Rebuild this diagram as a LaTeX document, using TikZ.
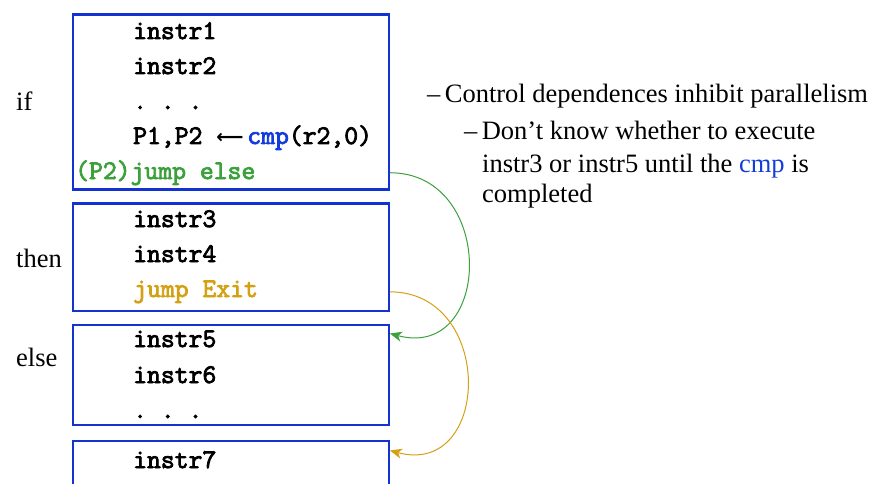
\documentclass[tikz,border=0pt]{standalone}
\usepackage{fontspec}
\setmainfont{Liberation Serif}
\setmonofont{Latin Modern Mono}[BoldFont=Latin Modern Mono, BoldFeatures={FakeBold=3}]
\newfontfamily\arrowfont{DejaVu Sans}
\usetikzlibrary{arrows.meta,calc}
\definecolor{boxblue}{RGB}{20,50,210}
\definecolor{cmpblue}{RGB}{20,60,220}
\definecolor{jgreen}{RGB}{60,160,60}
\definecolor{jgold}{RGB}{212,160,20}
\tikzset{
  codebox/.style={draw=boxblue, line width=2.4pt, anchor=north west, inner sep=0pt},
  code/.style={anchor=base west, inner sep=0pt, font=\fontsize{26.9}{26.9}\selectfont\ttfamily\bfseries},
  lbl/.style={anchor=base west, inner sep=0pt, font=\fontsize{26.5}{26.5}\selectfont},
  txt/.style={anchor=base west, inner sep=0pt, font=\fontsize{26.5}{26.5}\selectfont},
  jmp/.style={line width=1pt, -{Stealth[length=12pt,width=10pt,inset=3.5pt]}},
}
\begin{document}
\begin{tikzpicture}[x=1pt,y=-1pt]
\useasboundingbox (0,0) rectangle (876,484);
\clip (0,0) rectangle (876,484);
% boxes
\node[codebox, minimum width=316pt, minimum height=175pt] (b1) at (71.5,13.5) {};
\node[codebox, minimum width=316pt, minimum height=107pt] (b2) at (71.5,202.5) {};
\node[codebox, minimum width=316pt, minimum height=100pt] (b3) at (71.5,323.5) {};
\node[codebox, minimum width=316pt, minimum height=100pt] (b4) at (71.5,439.5) {};
% box 1
\node[code] (i1) at (133,39) {instr1};
\node[code] (i2) at (133,74) {instr2};
\node[code] (d1) at (133,109) {.~.~.};
\node[code] (cm) at (133,144) {P1,P2 \makebox[31pt][l]{\arrowfont\bfseries\fontsize{19}{19}\selectfont ⟵}\textcolor{cmpblue}{cmp}(r2,0)};
\node[code, text=jgreen] (je) at (75,179) {(P2)jump else};
% box 2
\node[code] (i3) at (133,227) {instr3};
\node[code] (i4) at (133,262) {instr4};
\node[code, text=jgold] (jx) at (133,297) {jump Exit};
% box 3
\node[code] (i5) at (133,347) {instr5};
\node[code] (i6) at (133,383) {instr6};
\node[code] (d2) at (133,418) {.~.~.};
% box 4
\node[code] (i7) at (133,468) {instr7};
% labels
\node[lbl] (lif) at (16,111) {if};
\node[lbl] (lthen) at (16,267) {then};
\node[lbl] (lelse) at (16,366) {else};
% right text
\node[txt] (t1) at (427,103) {–\,Control dependences inhibit parallelism};
\node[txt] (t2) at (464,140) {–\,Don’t know whether to execute};
\node[txt] (t3) at (482,172) {instr3 or instr5 until the \textcolor{cmpblue}{cmp} is};
\node[txt] (t4) at (482,202) {completed};
% connectors
\coordinate (gs) at (b1.east |- je);
\coordinate (ge) at ($(b3.north east)+(0,10)$);
\coordinate (ys) at (b2.east |- jx);
\coordinate (ye) at ($(b4.north east)+(0,11)$);
\draw[jmp, jgreen] (gs) to[out=0, in=-15, looseness=1.7] (ge);
\draw[jmp, jgold] (ys) to[out=0, in=-15, looseness=1.7] (ye);
\end{tikzpicture}
\end{document}
